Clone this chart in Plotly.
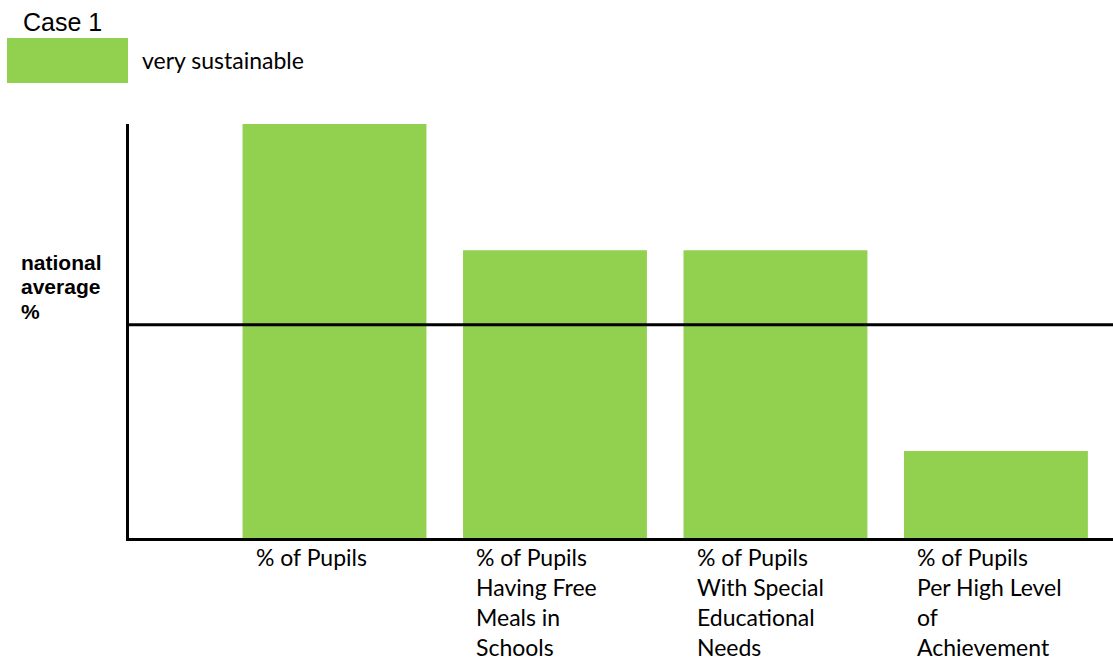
import plotly.graph_objects as go

# ---- data ----
categories = [
    "% of Pupils",
    "% of Pupils<br>Having Free<br>Meals in<br>Schools",
    "% of Pupils<br>With Special<br>Educational<br>Needs",
    "% of Pupils<br>Per High Level<br>of<br>Achievement",
]
values = [100, 69.5, 69.5, 21]
national_average = 51.5
series_name = "very sustainable"
title_text = "Case 1"
y_label = ["national", "average", "%"]

# ---- layout constants ----
W, H = 1113, 660
ML, MR, MT, MB = 129, 0, 124, 122
GREEN = "#92D050"
BAR_W = 0.834
TXT_FONT = "Lato, Open Sans, sans-serif"

def px_x(px):
    return (px - ML) / (W - ML - MR)

def px_y(py):
    return (H - MB - py) / (H - MT - MB)

idx = list(range(len(categories)))

fig = go.Figure()
fig.add_trace(go.Bar(
    x=idx, y=values, width=BAR_W, marker=dict(color=GREEN, line=dict(width=0)),
    name=series_name, showlegend=False, hoverinfo="skip",
))

# national average line
fig.add_shape(type="line", xref="paper", x0=0, x1=1, yref="y",
              y0=national_average, y1=national_average,
              line=dict(color="black", width=3))

# category labels (left aligned under each bar, one annotation per line)
for i, lab in enumerate(categories):
    for j, line in enumerate(lab.split("<br>")):
        fig.add_annotation(x=i - BAR_W / 2, xref="x", y=0, yref="paper",
                           text=line, showarrow=False, xanchor="left",
                           yanchor="middle", xshift=11, yshift=-19 - 30 * j,
                           font=dict(family=TXT_FONT, size=23, color="black"))

# title
fig.add_annotation(x=px_x(21), y=px_y(22), xref="paper", yref="paper",
                   text=title_text, showarrow=False, xanchor="left",
                   yanchor="middle",
                   font=dict(family="Liberation Sans, Arial", size=25, color="black"))
# legend swatch
fig.add_shape(type="rect", xref="paper", yref="paper",
              x0=px_x(7), x1=px_x(128), y0=px_y(83), y1=px_y(38),
              fillcolor=GREEN, line=dict(width=0))
fig.add_annotation(x=px_x(140), y=px_y(60), xref="paper", yref="paper",
                   text=series_name, showarrow=False, xanchor="left",
                   yanchor="middle",
                   font=dict(family=TXT_FONT, size=23, color="black"))
# y label (one annotation per line)
for j, line in enumerate(y_label):
    fig.add_annotation(x=px_x(19), y=px_y(262 + 24.5 * j), xref="paper", yref="paper",
                       text="<b>" + line + "</b>", showarrow=False,
                       xanchor="left", yanchor="middle", align="left",
                       font=dict(family="Liberation Sans, Arial", size=21, color="black"))

fig.update_layout(
    width=W, height=H, margin=dict(l=ML, r=MR, t=MT, b=MB, pad=0),
    paper_bgcolor="white", plot_bgcolor="white", showlegend=False,
    xaxis=dict(range=[-0.932, 3.531], showline=True, linecolor="black",
               linewidth=3, showgrid=False, zeroline=False,
               showticklabels=False, ticks=""),
    yaxis=dict(range=[0, 100], showline=True, linecolor="black",
               linewidth=3, showgrid=False, zeroline=False,
               showticklabels=False, ticks=""),
)

fig.write_html("out.html")
